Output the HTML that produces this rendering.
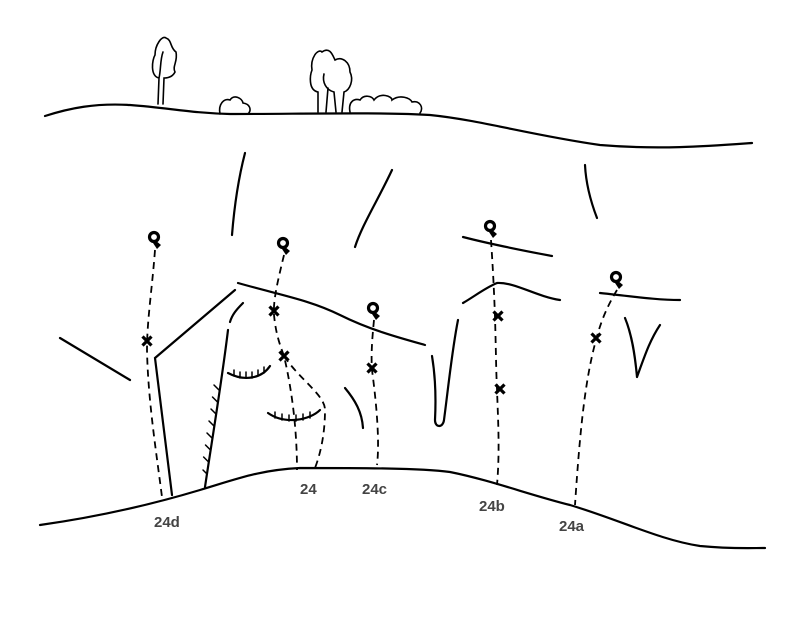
<!DOCTYPE html>
<html><head><meta charset="utf-8"><style>
body{margin:0;background:#fff}
svg{display:block}
text{font-family:"Liberation Sans",sans-serif;font-weight:bold;font-size:15px;fill:#444}
</style></head><body>
<svg width="800" height="617" viewBox="0 0 800 617" xmlns="http://www.w3.org/2000/svg">
<defs>
<g id="bolt"><circle cx="0" cy="0" r="4.5" fill="none" stroke="#000" stroke-width="3.2"/><path d="M1 3 L7 8 L3 12 L-1 6 Z" fill="#000"/></g>
<g id="x"><path d="M-4.5 -4.5 L4.5 4.5 M4.5 -4.5 L-4.5 4.5" stroke="#000" stroke-width="3.2"/></g>
</defs>
<g fill="none" stroke="#000" stroke-width="2.2" stroke-linecap="round">
<path d="M45 116 C70 108 95 103 130 105 C170 108 190 113 230 114 C300 114 380 112 430 115 C480 120 530 135 600 145 C660 150 710 146 752 143"/>
<path stroke-width="1.6" d="M158 104 L159 78 C150 76 152 60 155 55 C155 45 162 35 166 38 C172 40 170 48 176 52 C178 62 172 66 175 72 C172 78 166 78 164 78 L163 104 M159 78 C161 70 160 60 163 52"/>
<path stroke-width="1.6" d="M318 112 L318 92 C308 90 310 75 312 70 C310 58 318 48 322 52 C330 46 333 56 335 60 C342 56 350 62 350 72 C354 80 350 90 344 92 L342 112 M326 112 L328 88 M336 112 L334 92 C326 90 322 82 324 74"/>
<path stroke-width="1.6" d="M220 114 C218 104 224 98 230 100 C234 94 242 98 243 103 C250 104 252 110 248 114"/>
<path stroke-width="1.6" d="M350 112 C348 102 354 98 360 100 C364 94 372 96 374 100 C380 92 392 96 392 100 C400 94 410 98 412 102 C420 100 424 108 420 113"/>
<path d="M40 525 C90 518 140 508 200 490 C240 478 260 470 300 468 C360 468 420 468 450 472 C490 480 530 495 570 505 C620 520 660 540 700 546 C730 549 750 548 765 548"/>
<path d="M245 153 C238 180 234 210 232 235"/>
<path d="M392 170 C378 200 362 225 355 247"/>
<path d="M585 165 C586 185 592 205 597 218"/>
<path d="M60 338 L130 380"/>
<path d="M235 290 L155 358 L172 495"/>
<path d="M238 283 C280 295 310 300 340 315 C370 330 400 338 425 345"/>
<path d="M243 303 C236 310 232 315 230 322"/>
<path d="M228 330 C222 380 212 440 205 487"/>
<path stroke-width="1.5" d="M219 390 l-5 -5 M217.5 402 l-5 -5 M216 414 l-5 -5 M214 426 l-5 -5 M212 438 l-5 -5 M210.5 450 l-5 -5 M208.6 462 l-5 -5 M207 474 l-4 -4"/>
<path d="M432 356 C436 380 436 400 435 420 C435 428 443 428 444 420 C448 390 452 350 458 320"/>
<path d="M463 237 C490 244 520 250 552 256"/>
<path d="M463 303 C475 296 485 288 497 283 C515 282 535 296 560 300"/>
<path d="M600 293 C630 296 655 300 680 300"/>
<path d="M625 318 C632 335 635 355 637 377 M637 377 C645 355 650 340 660 325"/>
<path d="M228 373 C245 382 262 378 270 366"/>
<path stroke-width="1.5" d="M234 376 l0 -6 M240 378 l0 -6 M246 378 l0 -6 M252 378 l0 -6 M258 376 l0 -6 M264 373 l0 -6"/>
<path d="M268 413 C285 425 310 420 320 410"/>
<path stroke-width="1.5" d="M275 418 l0 -6 M282 420 l0 -6 M289 421 l0 -6 M296 421 l0 -6 M303 420 l0 -6 M310 418 l0 -6"/>
<path d="M345 388 C355 400 362 412 363 428"/>
</g>
<g fill="none" stroke="#000" stroke-width="1.8" stroke-dasharray="7,5">
<path d="M155 250 C152 290 147 320 147 350 C148 400 156 450 162 497"/>
<path d="M284 255 C278 280 273 300 274 315 C276 335 280 345 284 356 C292 390 297 430 297 470"/>
<path d="M284 356 C300 380 325 395 325 410 C325 435 320 455 315 468"/>
<path d="M374 320 C372 340 371 355 372 370 C376 400 380 440 377 465"/>
<path d="M491 240 C493 270 494 290 495 317 C496 350 496 370 497 389 C498 420 500 450 497 485"/>
<path d="M617 290 C605 310 600 325 596 340 C585 380 580 430 575 505"/>
</g>
<use href="#bolt" x="154" y="237"/>
<use href="#bolt" x="283" y="243"/>
<use href="#bolt" x="373" y="308"/>
<use href="#bolt" x="490" y="226"/>
<use href="#bolt" x="616" y="277"/>
<use href="#x" x="147" y="341"/>
<use href="#x" x="274" y="311"/>
<use href="#x" x="284" y="356"/>
<use href="#x" x="372" y="368"/>
<use href="#x" x="498" y="316"/>
<use href="#x" x="500" y="389"/>
<use href="#x" x="596" y="338"/>
<text x="154" y="527">24d</text>
<text x="300" y="494">24</text>
<text x="362" y="494">24c</text>
<text x="479" y="511">24b</text>
<text x="559" y="531">24a</text>
</svg>
</body></html>
